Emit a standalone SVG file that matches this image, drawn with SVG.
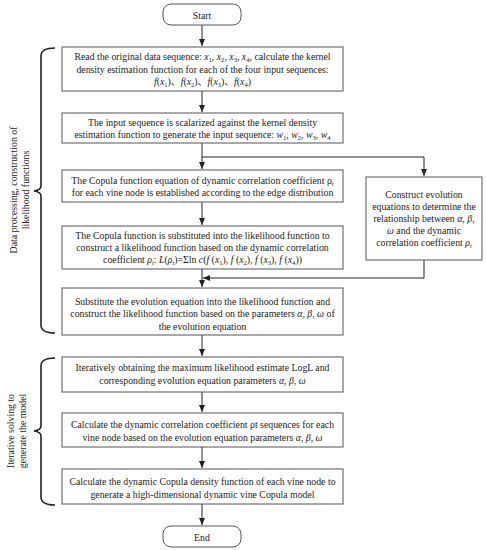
<svg xmlns="http://www.w3.org/2000/svg" width="486" height="550" viewBox="0 0 486 550">
<defs>
<style>
.box{fill:#fff;stroke:#555;stroke-width:1}
.t{font-family:"Liberation Serif","Noto Sans CJK SC",serif;font-size:9.8px;fill:#222;text-anchor:middle}
.i{font-style:italic}
.s{font-size:6.6px}
.ln{stroke:#222;stroke-width:1;fill:none}
.br{stroke:#222;stroke-width:1.6;fill:none}
</style>
<marker id="ah" markerWidth="8" markerHeight="8" refX="7" refY="4" orient="auto" markerUnits="userSpaceOnUse">
<path d="M0,1 L7,4 L0,7 Z" fill="#222"/>
</marker>
</defs>
<rect width="486" height="550" fill="#fff"/>

<g id="connectors">
<line class="ln" x1="202" y1="25" x2="202" y2="46" marker-end="url(#ah)"/>
<line class="ln" x1="202" y1="91" x2="202" y2="112" marker-end="url(#ah)"/>
<line class="ln" x1="202" y1="143" x2="202" y2="169" marker-end="url(#ah)"/>
<polyline class="ln" points="202,157 424,157 424,176" marker-end="url(#ah)"/>
<line class="ln" x1="202" y1="202" x2="202" y2="225" marker-end="url(#ah)"/>
<line class="ln" x1="202" y1="269" x2="202" y2="287" marker-end="url(#ah)"/>
<polyline class="ln" points="424,260 424,278 203,278" marker-end="url(#ah)"/>
<line class="ln" x1="202" y1="335" x2="202" y2="356" marker-end="url(#ah)"/>
<line class="ln" x1="202" y1="392" x2="202" y2="412" marker-end="url(#ah)"/>
<line class="ln" x1="202" y1="447" x2="202" y2="468" marker-end="url(#ah)"/>
<line class="ln" x1="202" y1="504" x2="202" y2="525" marker-end="url(#ah)"/>
</g>

<g id="start">
<rect class="box" x="163" y="4" width="78" height="21" rx="8"/>
<text class="t" x="202" y="18.5">Start</text>
</g>

<g id="box1">
<rect class="box" x="62" y="47" width="281" height="44"/>
<text class="t" x="202.5" y="60">Read the original data sequence: <tspan class="i">x</tspan><tspan class="s" dy="2">1</tspan><tspan dy="-2">, </tspan><tspan class="i">x</tspan><tspan class="s" dy="2">2</tspan><tspan dy="-2">, </tspan><tspan class="i">x</tspan><tspan class="s" dy="2">3</tspan><tspan dy="-2">, </tspan><tspan class="i">x</tspan><tspan class="s" dy="2">4</tspan><tspan dy="-2">, calculate the kernel</tspan></text>
<text class="t" x="202.5" y="72.5">density estimation function for each of the four input sequences:</text>
<text class="t" x="202.5" y="85"><tspan class="i">f</tspan>(<tspan class="i">x</tspan><tspan class="s" dy="2">1</tspan><tspan dy="-2">)、</tspan><tspan class="i">f</tspan>(<tspan class="i">x</tspan><tspan class="s" dy="2">2</tspan><tspan dy="-2">)、</tspan><tspan class="i">f</tspan>(<tspan class="i">x</tspan><tspan class="s" dy="2">3</tspan><tspan dy="-2">)、</tspan><tspan class="i">f</tspan>(<tspan class="i">x</tspan><tspan class="s" dy="2">4</tspan><tspan dy="-2">)</tspan></text>
</g>

<g id="box2">
<rect class="box" x="62" y="113" width="281" height="30"/>
<text class="t" x="202.5" y="125.5">The input sequence is scalarized against the kernel density</text>
<text class="t" x="202.5" y="138">estimation function to generate the input sequence: <tspan class="i">w</tspan><tspan class="s" dy="2">1</tspan><tspan dy="-2">, </tspan><tspan class="i">w</tspan><tspan class="s" dy="2">2</tspan><tspan dy="-2">, </tspan><tspan class="i">w</tspan><tspan class="s" dy="2">3</tspan><tspan dy="-2">, </tspan><tspan class="i">w</tspan><tspan class="s" dy="2">4</tspan></text>
</g>

<g id="box3">
<rect class="box" x="62" y="170" width="281" height="32"/>
<text class="t" x="202.5" y="184">The Copula function equation of dynamic correlation coefficient ρ<tspan class="s" dy="2">t</tspan></text>
<text class="t" x="202.5" y="196">for each vine node is established according to the edge distribution</text>
</g>

<g id="box_evolution">
<rect class="box" x="366" y="177" width="116" height="83"/>
<text class="t" x="424" y="197.5">Construct evolution</text>
<text class="t" x="424" y="209.5">equations to determine the</text>
<text class="t" x="424" y="221.5">relationship between <tspan class="i">α</tspan>, <tspan class="i">β</tspan>,</text>
<text class="t" x="424" y="234"><tspan class="i">ω</tspan> and the dynamic</text>
<text class="t" x="424" y="246">correlation coefficient <tspan class="i">ρ</tspan><tspan class="s i" dy="2">t</tspan></text>
</g>

<g id="box4">
<rect class="box" x="62" y="226" width="281" height="43"/>
<text class="t" x="202.5" y="238.5">The Copula function is substituted into the likelihood function to</text>
<text class="t" x="202.5" y="250.5">construct a likelihood function based on the dynamic correlation</text>
<text class="t" x="202.5" y="263">coefficient <tspan class="i">ρ</tspan><tspan class="s i" dy="2">t</tspan><tspan dy="-2">: </tspan><tspan class="i">L</tspan>(<tspan class="i">ρ</tspan><tspan class="s i" dy="2">t</tspan><tspan dy="-2">)=Σln </tspan><tspan class="i">c</tspan>(<tspan class="i">f</tspan> (<tspan class="i">x</tspan><tspan class="s" dy="2">1</tspan><tspan dy="-2">), </tspan><tspan class="i">f</tspan> (<tspan class="i">x</tspan><tspan class="s" dy="2">2</tspan><tspan dy="-2">), </tspan><tspan class="i">f</tspan> (<tspan class="i">x</tspan><tspan class="s" dy="2">3</tspan><tspan dy="-2">), </tspan><tspan class="i">f</tspan> (<tspan class="i">x</tspan><tspan class="s" dy="2">4</tspan><tspan dy="-2">))</tspan></text>
</g>

<g id="box5">
<rect class="box" x="62" y="288" width="281" height="47"/>
<text class="t" x="202.5" y="305">Substitute the evolution equation into the likelihood function and</text>
<text class="t" x="202.5" y="317">construct the likelihood function based on the parameters <tspan class="i">α</tspan>, <tspan class="i">β</tspan>, <tspan class="i">ω</tspan> of</text>
<text class="t" x="202.5" y="329.5">the evolution equation</text>
</g>

<g id="box6">
<rect class="box" x="62" y="357" width="281" height="35"/>
<text class="t" x="202.5" y="371">Iteratively obtaining the maximum likelihood estimate LogL and</text>
<text class="t" x="202.5" y="384">corresponding evolution equation parameters <tspan class="i">α</tspan>, <tspan class="i">β</tspan>, <tspan class="i">ω</tspan></text>
</g>

<g id="box7">
<rect class="box" x="62" y="413" width="281" height="34"/>
<text class="t" x="202.5" y="428">Calculate the dynamic correlation coefficient ρt sequences for each</text>
<text class="t" x="202.5" y="441">vine node based on the evolution equation parameters <tspan class="i">α</tspan>, <tspan class="i">β</tspan>, <tspan class="i">ω</tspan></text>
</g>

<g id="box8">
<rect class="box" x="62" y="469" width="281" height="35"/>
<text class="t" x="202.5" y="485">Calculate the dynamic Copula density function of each vine node to</text>
<text class="t" x="202.5" y="497.5">generate a high-dimensional dynamic vine Copula model</text>
</g>

<g id="end">
<rect class="box" x="163" y="526" width="78" height="21" rx="8"/>
<text class="t" x="202" y="540.5">End</text>
</g>

<g id="brace1">
<path class="br" d="M55,48 Q41,48 41,56 L41,186 Q41,190 34,191 Q41,192 41,196 L41,325 Q41,333 55,333"/>
<text class="t" transform="translate(16.5,190) rotate(-90)">Data processing, construction of</text>
<text class="t" transform="translate(28.5,190) rotate(-90)">likelihood functions</text>
</g>

<g id="brace2">
<path class="br" d="M55,358 Q41,358 41,366 L41,426 Q41,430 34,431 Q41,432 41,436 L41,497 Q41,505 55,505"/>
<text class="t" transform="translate(13.5,431) rotate(-90)">Iterative solving to</text>
<text class="t" transform="translate(25.5,431) rotate(-90)">generate the model</text>
</g>
</svg>
